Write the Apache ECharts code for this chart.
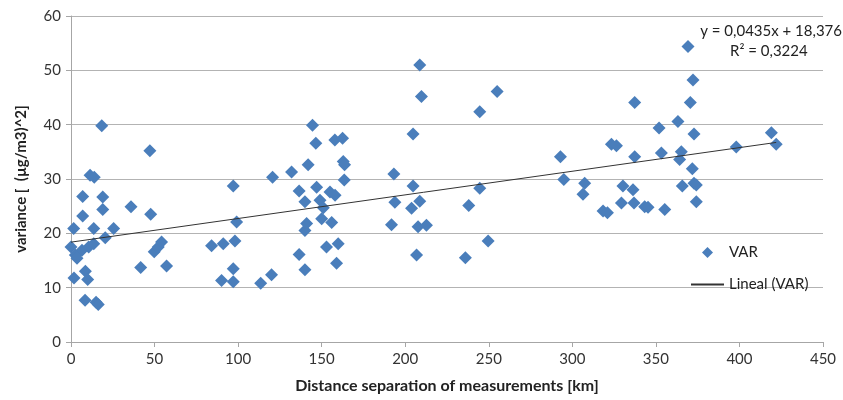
<!DOCTYPE html>
<html><head><meta charset="utf-8">
<script src="https://cdn.jsdelivr.net/npm/echarts@6/dist/echarts.min.js"></script>
<style>html,body{margin:0;padding:0;background:#fff}#c{width:843px;height:400px}</style>
</head><body><div id="c"></div>
<script>
var varX = [0,1.6,2.6,3.6,6.6,7,7,8.6,10,1.8,8.4,15,16.3,10.6,13.6,13.6,11.4,13.9,18.4,19,19,20.5,25.5,35.9,41.7,47.2,47.7,49.8,52.2,54.2,57.2,
  84.1,91.1,98.1,97.1,99.1,97.1,90.1,97.1,113.5,120,120.6,
  132,136.5,136.5,140,140,140,141,141.9,144.5,146.5,147,149,150,151,152.9,155,156,158,157.9,158.9,159.9,162.5,162.9,163.7,163.5,
  191.8,193.2,193.8,203.8,204.7,204.7,206.8,207.7,208.7,208.7,209.7,212.7,
  236,238,244.6,244.6,249.6,255,
  292.9,294.9,306.4,307.4,318.4,321,323.4,326.4,329.4,330.3,
  336.3,336.9,337.3,337.3,343.3,345.3,351.9,353.3,355.3,363.2,364.2,365.2,365.8,369.2,370.6,371.8,372.2,372.8,372.8,374.2,374.2,398.1,419.1,422];
var varY = [17.5,20.9,16,15.4,16.9,23.2,26.8,13,11.5,11.8,7.7,7.3,6.9,17.5,18.1,20.9,30.7,30.3,39.8,26.7,24.4,19.2,20.9,24.9,13.7,35.2,23.5,16.6,17.5,18.4,14.0,
  17.7,18.1,18.6,28.7,22.1,13.5,11.3,11.1,10.8,12.4,30.3,
  31.3,27.8,16.1,25.8,20.5,13.3,21.8,32.6,39.9,36.6,28.5,26.1,22.7,24.7,17.5,27.6,22,27,37.2,14.5,18.1,37.5,33.2,32.6,29.8,
  21.6,30.9,25.7,24.6,38.3,28.7,16,21.2,51,25.9,45.2,21.5,
  15.5,25.1,42.4,28.3,18.6,46.1,
  34.1,29.9,27.2,29.2,24.1,23.8,36.4,36.1,25.6,28.7,
  28,25.6,44.1,34.1,24.9,24.8,39.4,34.8,24.4,40.6,33.6,35,28.7,54.4,44.1,31.9,48.2,38.3,29.2,28.9,25.8,35.9,38.5,36.4];
var trendX = [0, 422];
var trendY = [18.38, 36.73];
var xTicks = [0,50,100,150,200,250,300,350,400,450];
var yTicks = [0,10,20,30,40,50,60];
var eqLines = ['y = 0,0435x + 18,376', 'R² = 0,3224'];

var pts = varX.map(function(x,i){return [x, varY[i]];});
var tr = trendX.map(function(x,i){return [x, trendY[i]];});
var FONT = 'Lato, "Open Sans", sans-serif';
var chart = echarts.init(document.getElementById('c'));
chart.setOption({
  animation:false,
  textStyle:{fontFamily:FONT},
  grid:{left:71,right:20,top:16,bottom:58},
  xAxis:{type:'value',min:xTicks[0],max:xTicks[xTicks.length-1],interval:50,
    name:'Distance separation of measurements [km]',nameLocation:'middle',nameGap:36,
    nameTextStyle:{fontSize:16,fontWeight:'bold',color:'#222',fontFamily:FONT},
    axisLine:{lineStyle:{color:'#a6a6a6'}},axisTick:{show:true,length:5,lineStyle:{color:'#a6a6a6'}},
    axisLabel:{fontSize:15,color:'#333',margin:10,fontFamily:FONT},splitLine:{show:false}},
  yAxis:{type:'value',min:yTicks[0],max:yTicks[yTicks.length-1],interval:10,
    name:'variance [  (µg/m3)^2]',nameLocation:'middle',nameGap:42,nameRotate:90,
    nameTextStyle:{fontSize:15,fontWeight:'bold',color:'#222',fontFamily:FONT},
    axisLine:{show:true,lineStyle:{color:'#a6a6a6'}},axisTick:{show:true,length:5,lineStyle:{color:'#a6a6a6'}},
    axisLabel:{fontSize:15,color:'#333',margin:10,fontFamily:FONT},
    splitLine:{show:true,lineStyle:{color:'#b3b3b3',width:1}}},
  legend:{orient:'vertical',left:685,top:240,itemWidth:33,itemHeight:11,itemGap:17,symbolKeepAspect:true,
    textStyle:{fontSize:15,color:'#222',fontFamily:FONT},
    data:[{name:'VAR',icon:'path://M5,0L10,5L5,10L0,5Z'},{name:'Lineal (VAR)',itemStyle:{opacity:0}}]},
  graphic:[
    {type:'text',right:1,top:24,style:{text:eqLines[0],fontSize:15,fill:'#222',fontFamily:FONT}},
    {type:'text',left:730,top:44,style:{text:eqLines[1],fontSize:15,fill:'#222',fontFamily:FONT}}
  ],
  series:[
    {name:'VAR',type:'scatter',symbol:'diamond',symbolSize:13,data:pts,
      itemStyle:{color:'#4a7ebb',opacity:1},z:3},
    {name:'Lineal (VAR)',type:'line',symbol:'none',data:tr,
      lineStyle:{color:'#333',width:1},itemStyle:{color:'#333'},z:4}
  ]
});
</script></body></html>
